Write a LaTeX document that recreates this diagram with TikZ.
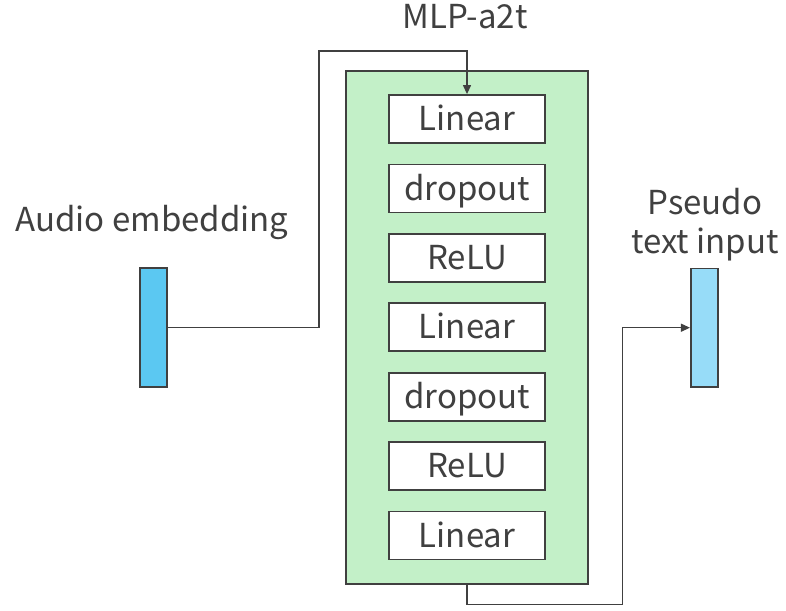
\documentclass[tikz,border=0pt]{standalone}
\usepackage{fontspec}
\setmainfont{Noto Sans CJK JP}
\usetikzlibrary{arrows.meta}
\definecolor{ink}{HTML}{404040}
\definecolor{mlpgreen}{HTML}{C3F0C8}
\definecolor{audioblue}{HTML}{5BC8F2}
\definecolor{textblue}{HTML}{97DCF8}
\tikzset{
  lbl/.style={text=ink, font=\fontsize{33}{39}\selectfont, inner sep=0pt,
    text height=24pt, text depth=7pt},
  layerbox/.style={draw=ink, line width=1.8pt, fill=white, text=ink,
    font=\fontsize{33}{39}\selectfont, inner sep=0pt,
    minimum width=156.3pt, minimum height=48pt,
    text height=35.7pt, text depth=12.3pt},
  mlpbox/.style={draw=ink, line width=1.8pt, fill=mlpgreen, inner sep=0pt,
    minimum width=242.6pt, minimum height=513pt},
  vecbar/.style={draw=ink, line width=1.8pt, inner sep=0pt,
    minimum width=27.3pt, minimum height=118.4pt},
  link/.style={draw=ink, line width=1.2pt},
  tip/.style={-{Triangle[length=9pt,width=8pt]}},
}
\begin{document}
\begin{tikzpicture}[x=1pt,y=-1pt]
\useasboundingbox (0,0) rectangle (786,610);

% MLP container and its layers
\node[mlpbox] (mlp) at (467,327.5) {};
\foreach \name/\txt [count=\k from 0] in
  {l1/Linear, d1/dropout, r1/ReLU, l2/Linear, d2/dropout, r2/ReLU, l3/Linear}
  \node[layerbox] (\name) at (467,{119+69.4*\k}) {\txt};

% embedding vectors
\node[vecbar, fill=audioblue] (ae) at (153.7,327.5) {};
\node[vecbar, fill=textblue] (pt) at (704.5,327.7) {};

% labels
\node[lbl, anchor=base] (title) at (465,28.3) {MLP-a2t};
\node[lbl, anchor=base] (aelbl) at (152,231.7) {Audio embedding};
\node[lbl, anchor=base] (ptlbl1) at (705,214.3) {Pseudo};
\node[lbl, anchor=base] (ptlbl2) at (705,253.3) {text input};

% connectors
\coordinate (bendA) at (319,51);
\coordinate (bendB) at (622.3,604.3);
\draw[link, tip] (ae.east) -| (bendA) -| (l1.north);
\draw[link, tip] (mlp.south) |- (bendB) |- (pt.west);
\end{tikzpicture}
\end{document}
